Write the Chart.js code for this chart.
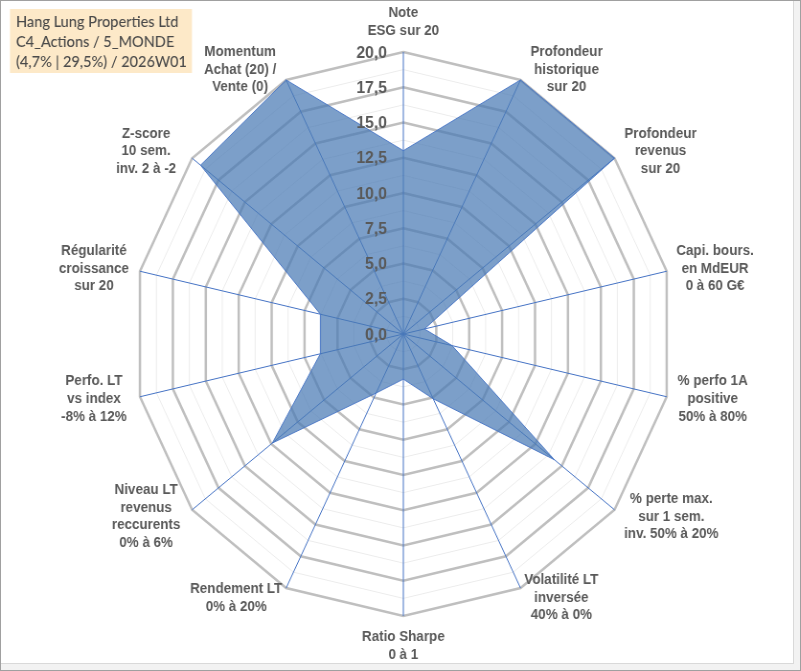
<!DOCTYPE html>
<html><head><meta charset="utf-8">
<script src="https://cdn.jsdelivr.net/npm/chart.js@4.4.1/dist/chart.umd.min.js"></script>
<style>
html,body{margin:0;padding:0;background:#fff;}
#frame{position:absolute;left:0;top:0;width:801px;height:671px;overflow:hidden;background:#f2f2f2;}
#white{position:absolute;left:1px;top:1px;width:793px;height:663px;background:#fff;box-sizing:border-box;border-right:1px solid #d9d9d9;border-bottom:1px solid #d9d9d9;}
#wrap{position:absolute;left:0;top:0;width:836px;height:671px;transform:scaleX(0.958);transform-origin:0 0;}
#border{position:absolute;left:0;top:0;width:801px;height:671px;box-sizing:border-box;border:1px solid #a0a0a0;pointer-events:none;}
</style>
</head><body>
<div id="frame">
  <div id="white"></div>
  <div id="wrap"><canvas id="c"></canvas></div>
  <div id="border"></div>
</div>
<script>
const categories = [
  ['Note','ESG sur 20'],
  ['Profondeur','historique','sur 20'],
  ['Profondeur','revenus','sur 20'],
  ['Capi. bours.','en MdEUR','0 à 60 G€'],
  ['% perfo 1A','positive','50% à 80%'],
  ['% perte max.','sur 1 sem.','inv. 50% à 20%'],
  ['Volatilité LT','inversée','40% à 0%'],
  ['Ratio Sharpe','0 à 1'],
  ['Rendement LT','0% à 20%'],
  ['Niveau LT','revenus','reccurents','0% à 6%'],
  ['Perfo. LT','vs index','-8% à 12%'],
  ['Régularité','croissance','sur 20'],
  ['Z-score','10 sem.','inv. 2 à -2'],
  ['Momentum','Achat (20) /','Vente (0)']
];
const scores = [13, 20, 20, 1.6, 3.7, 14.3, 5.1, 3.2, 4.65, 12.4, 6.3, 6.3, 19.2, 20];
const tickValues = [0, 2.5, 5, 7.5, 10, 12.5, 15, 17.5, 20];
const tickLabels = ['0,0','2,5','5,0','7,5','10,0','12,5','15,0','17,5','20,0'];
const titleLines = ['Hang Lung Properties Ltd','C4_Actions / 5_MONDE','(4,7% | 29,5%) / 2026W01'];

const TXT = '#595959';
const isMajor = v => tickValues.some(t => Math.abs(t - v) < 1e-6);

const textPlugin = {
  id: 'texts',
  afterDraw(chart) {
    const ctx = chart.ctx;
    const s = chart.scales.r;
    const R = s.drawingArea;
    ctx.save();
    // tick labels
    ctx.font = 'bold 16.5px "Liberation Sans", Arial, sans-serif';
    ctx.fillStyle = TXT;
    ctx.textAlign = 'right';
    ctx.textBaseline = 'middle';
    tickValues.forEach((v, j) => {
      const d = s.getDistanceFromCenterForValue(v);
      ctx.fillText(tickLabels[j], s.xCenter - 17, s.yCenter - d + 1);
    });
    // point labels
    ctx.font = 'bold 14px "Liberation Sans", Arial, sans-serif';
    ctx.textAlign = 'center';
    const lh = 17.6;
    categories.forEach((lines, i) => {
      const a = s.getIndexAngle(i);
      const end = s.getPointPosition(i, R);
      const sn = Math.sin(a), cs = Math.cos(a);
      const W = Math.max(...lines.map(l => ctx.measureText(l).width));
      const H = lines.length * lh;
      let cx, cy;
      if (Math.abs(sn) < 0.01) {
        cx = end.x;
        cy = cs > 0 ? end.y - 12 - H / 2 : end.y + 12.5 + H / 2;
      } else {
        const sg = sn > 0 ? 1 : -1;
        let off;
        if (cs < -0.7) off = W / 2 + 4;
        else off = Math.max(W / 2 + 10, 48);
        cx = end.x + sg * off;
        cy = end.y - cs * 11;
      }
      lines.forEach((l, k) => {
        ctx.fillText(l, cx, cy + (k - (lines.length - 1) / 2) * lh);
      });
    });
    // title box
    ctx.fillStyle = '#fde9c8';
    ctx.fillRect(10.4, 9, 190, 64);
    ctx.fillStyle = '#4a4a4a';
    ctx.textAlign = 'left';
    ctx.textBaseline = 'alphabetic';
    ctx.font = '500 15.2px Lato, "Open Sans", sans-serif';
    titleLines.forEach((l, k) => ctx.fillText(l, 16.7, 27.3 + k * 20));
    ctx.restore();
  }
};

new Chart(document.getElementById('c'), {
  type: 'radar',
  data: {
    labels: categories,
    datasets: [{
      data: scores,
      backgroundColor: 'rgba(74,122,180,0.72)',
      borderColor: 'rgba(68,114,196,0.9)',
      borderWidth: 1,
      pointRadius: 0,
      pointHoverRadius: 0,
      fill: true,
      tension: 0
    }]
  },
  options: {
    responsive: true,
    maintainAspectRatio: false,
    animation: false,
    events: [],
    layout: { padding: { left: 139, right: 133, top: 52, bottom: 55 } },
    plugins: { legend: { display: false }, tooltip: { enabled: false } },
    scales: {
      r: {
        min: 0, max: 20,
        ticks: { display: false, stepSize: 1.25 },
        pointLabels: { display: false },
        grid: {
          circular: false,
          color: c => (c.tick && isMajor(c.tick.value)) ? '#bfbfbf' : '#ececec',
          lineWidth: c => (c.tick && isMajor(c.tick.value)) ? 2.5 : 1
        },
        angleLines: { color: '#4472C4', lineWidth: 1 }
      }
    }
  },
  plugins: [textPlugin]
});
</script>
</body></html>
